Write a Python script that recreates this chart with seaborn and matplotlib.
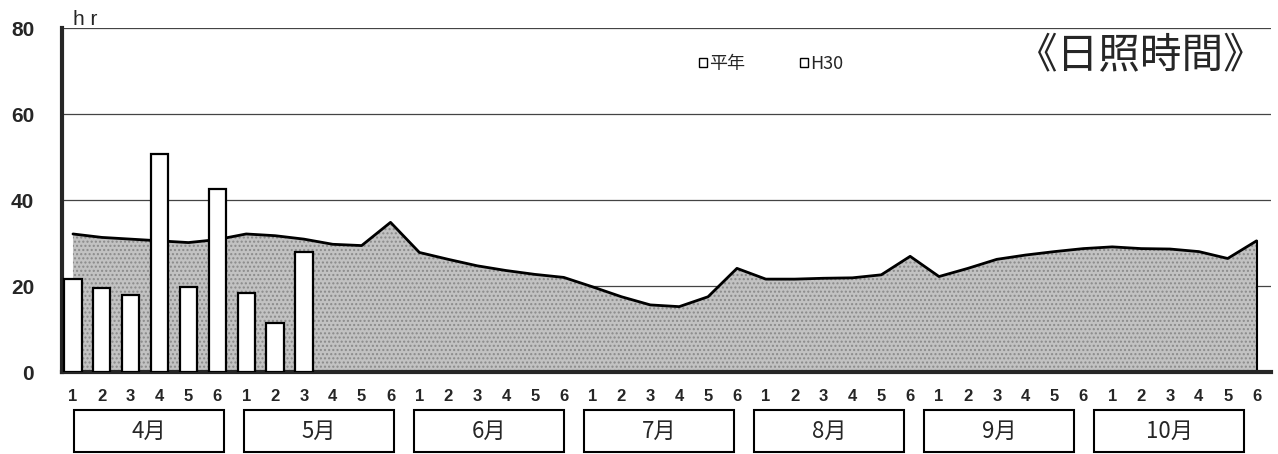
import numpy as np
import pandas as pd
import seaborn as sns
import matplotlib.pyplot as plt
from matplotlib.patches import Rectangle

# data: 7 months x 6 half-decades (5-day periods)
months = ['4月', '5月', '6月', '7月', '8月', '9月', '10月']
periods = ['1', '2', '3', '4', '5', '6']

heinen = [32.1, 31.3, 30.9, 30.5, 30.1, 30.8,
          32.1, 31.7, 30.9, 29.7, 29.4, 34.8,
          27.8, 26.2, 24.7, 23.6, 22.7, 22.0,
          19.8, 17.5, 15.6, 15.2, 17.5, 24.1,
          21.6, 21.6, 21.8, 21.9, 22.6, 26.9,
          22.2, 24.1, 26.2, 27.2, 28.0, 28.7,
          29.1, 28.7, 28.6, 28.0, 26.4, 30.5]

h30 = [21.7, 19.5, 17.9, 50.6, 19.7, 42.6,
       18.3, 11.3, 27.8]

keys = [m + '-' + p for m in months for p in periods]
df = pd.DataFrame({'key': keys,
                   'period': periods * len(months),
                   '平年': heinen,
                   'H30': h30 + [np.nan] * (len(keys) - len(h30))})

sns.set_style('white')
plt.rcParams['font.family'] = ['Noto Sans CJK JP', 'DejaVu Sans']

fig = plt.figure(figsize=(12.78, 4.54), dpi=100)
W, H = 1278, 454
ax = fig.add_axes([62 / W, 82 / H, (1271 - 62) / W, 344 / H])

# bars (H30)
sns.barplot(data=df, x='key', y='H30', order=keys, width=0.6,
            color='white', edgecolor='black', linewidth=1.6,
            saturation=1, ax=ax, zorder=3, label='H30')

# area (平年)
xs = np.arange(len(keys))
ax.fill_between(xs, heinen, 0, facecolor='#c2c2c2', edgecolor='#8a8a8a',
                hatch='....', linewidth=0, zorder=1, label='平年')
sns.lineplot(x=xs, y=heinen, color='black', linewidth=2, ax=ax,
             zorder=2, sort=False, legend=False)
ax.plot([xs[-1], xs[-1]], [0, heinen[-1]], color='black', linewidth=1.5, zorder=2)
if ax.get_legend() is not None:
    ax.get_legend().remove()

ax.set_xlim(-0.38, len(keys) - 0.5)
ax.set_ylim(0, 80)
ax.set_yticks([0, 20, 40, 60, 80])
ax.yaxis.grid(True, color='#444444', linewidth=0.9, zorder=0)
ax.set_axisbelow(True)
ax.set_xlabel('')
ax.set_ylabel('')

for s in ['top', 'right']:
    ax.spines[s].set_visible(False)
ax.spines['left'].set_linewidth(3)
ax.spines['bottom'].set_linewidth(3)

ax.set_xticks(xs)
ax.set_xticklabels(df['period'], fontsize=12, fontweight='bold',
                   family='Liberation Sans')
ax.set_xticks(xs[1:] - 0.5, minor=True)
ax.tick_params(axis='x', which='major', length=0, pad=12)
ax.tick_params(axis='x', which='minor', direction='in', length=4, width=3)
ax.tick_params(axis='y', direction='in', length=4, width=2, pad=20,
               labelsize=15)
for t in ax.get_yticklabels():
    t.set_family('Liberation Sans')
    t.set_fontweight('bold')

# legend
handles, labels = ax.get_legend_handles_labels()
order = [labels.index('平年'), labels.index('H30')]
leg = fig.legend([handles[i] for i in order], [labels[i] for i in order],
                 loc='center', bbox_to_anchor=(771 / W, 1 - 64 / H),
                 ncol=2, frameon=False, fontsize=13, handlelength=0.45,
                 handleheight=0.45, handletextpad=0.15, columnspacing=3.0)
for hd in leg.legend_handles:
    hd.set_facecolor('white')
    hd.set_edgecolor('black')
    hd.set_hatch(None)
    hd.set_linewidth(1)

fig.text(1141 / W, 1 - 57 / H, '《日照時間》', fontsize=30,
         ha='center', va='center')
fig.text(73 / W, 1 - 25 / H, 'h r', fontsize=15, ha='left',
         va='baseline', family='Liberation Sans')

# month boxes under the axis
for k, m in enumerate(months):
    left = 74 + 170 * k
    fig.patches.append(Rectangle((left / W, 2 / H), 150 / W, 42 / H,
                                 transform=fig.transFigure, fill=False,
                                 edgecolor='black', linewidth=1.5))
    fig.text((left + 75) / W, 23 / H, m, fontsize=16,
             ha='center', va='center')

fig.savefig('out.png', dpi=100)
